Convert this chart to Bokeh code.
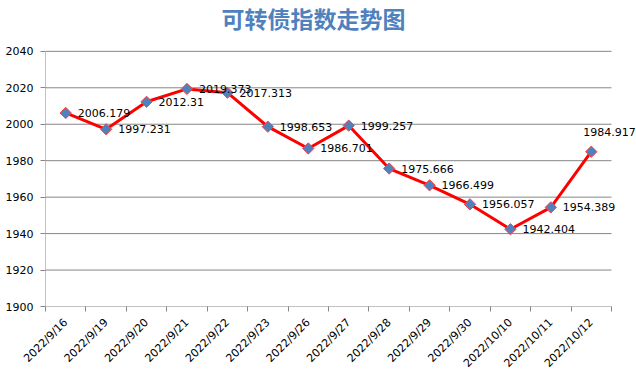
import math
from bokeh.plotting import figure
from bokeh.models import Range1d, FixedTicker, ColumnDataSource, LabelSet, Label
from bokeh.core.properties import value
from bokeh.embed import file_html
from bokeh.resources import INLINE

dates = ["2022/9/16", "2022/9/19", "2022/9/20", "2022/9/21", "2022/9/22", "2022/9/23",
         "2022/9/26", "2022/9/27", "2022/9/28", "2022/9/29", "2022/9/30", "2022/10/10",
         "2022/10/11", "2022/10/12"]
index_values = [2006.179, 1997.231, 2012.31, 2019.373, 2017.313, 1998.653,
                1986.701, 1999.257, 1975.666, 1966.499, 1956.057, 1942.404,
                1954.389, 1984.917]
y_ticks = [1900, 1920, 1940, 1960, 1980, 2000, 2020, 2040]
title_text = "可转债指数走势图"

n = len(dates)
xs = [i + 0.5 for i in range(n)]
labels = [str(v) for v in index_values]
y_min, y_max = y_ticks[0], y_ticks[-1]

# layout in pixels (plot area of the reference: x 45..611, y 51..307)
W, H = 636, 377
left, right, top, bottom = 45, 611, 51, 307
x_hi = n * (W - left) / (right - left)
y_hi = y_min + (y_max - y_min) * (bottom - 0) / (bottom - top)

src = ColumnDataSource(dict(x=xs, y=index_values, label=labels))
src_main = ColumnDataSource(dict(x=xs[:-1], y=index_values[:-1], label=labels[:-1]))
src_last = ColumnDataSource(dict(x=xs[-1:], y=index_values[-1:], label=labels[-1:]))
grid_src = ColumnDataSource(dict(x0=[0] * len(y_ticks), x1=[n] * len(y_ticks),
                                 y0=y_ticks, y1=y_ticks))

p = figure(width=W, height=H, output_backend="svg", toolbar_location=None,
           x_range=Range1d(0, x_hi), y_range=Range1d(y_min, y_hi),
           min_border_left=left, min_border_right=0, min_border_top=0,
           min_border_bottom=H - bottom)
p.outline_line_color = None
p.background_fill_color = "white"
p.border_fill_color = "white"

grid_color = "#868686"
p.xgrid.visible = False
p.ygrid.visible = False
p.segment("x0", "y0", "x1", "y1", source=grid_src, line_color=grid_color, line_width=1)
p.segment(x0=[0], y0=[y_min], x1=[0], y1=[y_max], line_color=grid_color, line_width=1)

p.add_layout(Label(x=313, y=17, x_units="canvas", y_units="canvas", text=title_text,
                   text_font="Noto Sans CJK SC", text_font_size="23px",
                   text_font_style="bold",
                   text_color="#4F81BD", text_align="center", text_baseline="middle"))

p.yaxis.ticker = FixedTicker(ticks=y_ticks)
p.yaxis.axis_line_color = None
p.yaxis.major_tick_line_color = grid_color
p.yaxis.major_tick_out = 5
p.yaxis.major_tick_in = 0
p.yaxis.minor_tick_line_color = None
p.yaxis.major_label_text_font = "DejaVu Sans"
p.yaxis.major_label_text_font_size = "11px"
p.yaxis.major_label_text_color = "black"
p.yaxis.major_label_standoff = 7

p.xaxis.ticker = FixedTicker(ticks=xs, minor_ticks=list(range(n + 1)))
p.xaxis.major_label_overrides = {x: d for x, d in zip(xs, dates)}
p.xaxis.major_label_orientation = math.pi / 4
p.xaxis.major_tick_line_color = None
p.xaxis.minor_tick_line_color = grid_color
p.xaxis.minor_tick_out = 5
p.xaxis.minor_tick_in = 0
p.xaxis.axis_line_color = None
p.xaxis.major_label_text_font = "DejaVu Sans"
p.xaxis.major_label_text_font_size = "11px"
p.xaxis.major_label_text_color = "black"
p.xaxis.major_label_standoff = 8

p.line("x", "y", source=src, line_color="red", line_width=3)
p.scatter("x", "y", source=src, marker="square", angle=math.pi / 4, size=8,
          fill_color="#4F81BD", line_color="#FF4040", line_width=1)

label_font = value("DejaVu Sans")
p.add_layout(LabelSet(x="x", y="y", text="label", source=src_main, x_offset=12, y_offset=0,
                      text_baseline="middle", text_align="left", text_font=label_font,
                      text_font_size="11px", text_color="black"))
p.add_layout(LabelSet(x="x", y="y", text="label", source=src_last, x_offset=-8, y_offset=20,
                      text_baseline="middle", text_align="left", text_font=label_font,
                      text_font_size="11px", text_color="black"))

open("out.html", "w").write(file_html(p, INLINE))
